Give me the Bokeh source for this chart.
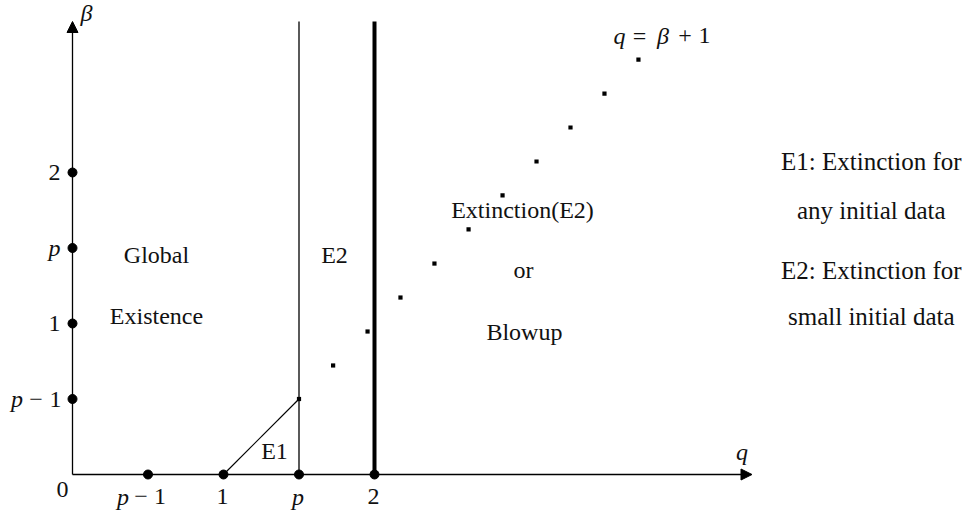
from bokeh.plotting import figure
from bokeh.models import Range1d, Arrow, NormalHead
from bokeh.embed import file_html
from bokeh.resources import INLINE
from bokeh.core.properties import value

# ---------------- data ----------------
p_val = 1.5
q_max = 4.5
beta_max = 3.0

q_tick_vals = [p_val - 1, 1.0, p_val, 2.0]
q_tick_labels = ["p − 1", "1", "p", "2"]
beta_tick_vals = [p_val - 1, 1.0, p_val, 2.0]
beta_tick_labels = ["p − 1", "1", "p", "2"]

# dotted line q = beta + 1 (beyond q = p)
line_q = [1.726, 1.954, 2.172, 2.397, 2.623, 2.848, 3.073, 3.298, 3.523, 3.748]
line_beta = [0.722, 0.947, 1.172, 1.397, 1.623, 1.848, 2.073, 2.298, 2.523, 2.748]

region_texts = ["Global", "Existence", "E2", "E1", "Extinction(E2)", "or", "Blowup"]
note_texts = ["E1: Extinction for", "any initial data", "E2: Extinction for", "small initial data"]
curve_label = "q = β + 1"

# ---------------- layout ----------------
W, H = 975, 510
UNIT = 151.0           # pixels per data unit
PX = 1.0 / UNIT
ox, oy = 72.0, 474.0   # origin in figure pixels
FONT = "Liberation Serif"
FS = "24px"
ITALIC = {"p", "q", "β"}
INK = "#111111"
FIX = 9 * PX           # baseline correction for rendered text

x0 = -ox * PX
y0 = -(H - oy) * PX
fig = figure(width=W, height=H, output_backend="svg", toolbar_location=None,
             x_range=Range1d(x0, x0 + W * PX), y_range=Range1d(y0, y0 + H * PX),
             x_axis_location=None, y_axis_location=None, min_border=0,
             outline_line_color=None, background_fill_color="white")
fig.grid.visible = False


def tokens_at(x, y, label, offsets):
    toks = label.split(" ")
    for tok, off in zip(toks, offsets):
        fig.text(x=[x], y=[y + FIX], text=[tok], x_offset=off, text_align="center",
                 text_baseline="alphabetic", text_font=value(FONT),
                 text_font_style="italic" if tok in ITALIC else "normal",
                 text_font_size=FS, text_color=INK)


# axes with arrows
fig.add_layout(Arrow(end=NormalHead(size=11, fill_color="black", line_color="black", line_width=1),
                     x_start=0, y_start=0, x_end=q_max, y_end=0,
                     line_width=1.3, line_color="black"))
fig.add_layout(Arrow(end=NormalHead(size=11, fill_color="black", line_color="black", line_width=1),
                     x_start=0, y_start=0, x_end=0, y_end=beta_max,
                     line_width=1.3, line_color="black"))

# region boundaries
fig.line(x=[1.0, p_val], y=[0, p_val - 1], line_width=1.2, line_color="black")
fig.line(x=[p_val, p_val], y=[0, beta_max], line_width=1.3, line_color="black")
fig.line(x=[2.0, 2.0], y=[0, beta_max], line_width=4, line_color="black")

# dotted q = beta + 1
fig.scatter(x=line_q + [p_val], y=line_beta + [p_val - 1], marker="square", size=4.2,
            fill_color="black", line_color="black", line_width=0)

# tick dots
fig.scatter(x=q_tick_vals, y=[0] * len(q_tick_vals), marker="circle", size=9,
            fill_color="black", line_color="black")
fig.scatter(x=[0] * len(beta_tick_vals), y=beta_tick_vals, marker="circle", size=9,
            fill_color="black", line_color="black")

# tick labels on q axis
q_base = -31 * PX
for v, lab in zip(q_tick_vals, q_tick_labels):
    offs = [-25, -7, 12] if " " in lab else [-1]
    tokens_at(v, q_base, lab, offs)

# tick labels on beta axis
for v, lab in zip(beta_tick_vals, beta_tick_labels):
    offs = [-55.5, -36.5, -17] if " " in lab else [-18]
    tokens_at(0, v - 9 * PX, lab, offs)

# origin label
tokens_at(0, -24 * PX, "0", [-10])

# axis names
tokens_at(0, beta_max, "β", [14])
tokens_at(q_max, 14 * PX, "q", [-10])

# curve label
tokens_at(3.9, beta_max - 23 * PX, curve_label, [-42, -22, 1.5, 23.5, 43])

# region labels
region_q = [0.556, 0.556, 1.735, 1.338, 2.98, 2.987, 2.993]
region_beta = [b + FIX for b in [1.397, 0.987, 1.397, 0.093, 1.695, 1.298, 0.887]]
fig.text(x=region_q, y=region_beta, text=region_texts, text_align="center",
         text_baseline="alphabetic", text_font=value(FONT), text_font_size=FS,
         text_color=INK)

# notes on the right
note_q = [5.29] * 4
note_beta = [b + FIX for b in [2.013, 1.689, 1.291, 0.987]]
fig.text(x=note_q, y=note_beta, text=note_texts, text_align="center",
         text_baseline="alphabetic", text_font=value(FONT), text_font_size="25px",
         text_color=INK)

open("out.html", "w").write(file_html(fig, INLINE))
